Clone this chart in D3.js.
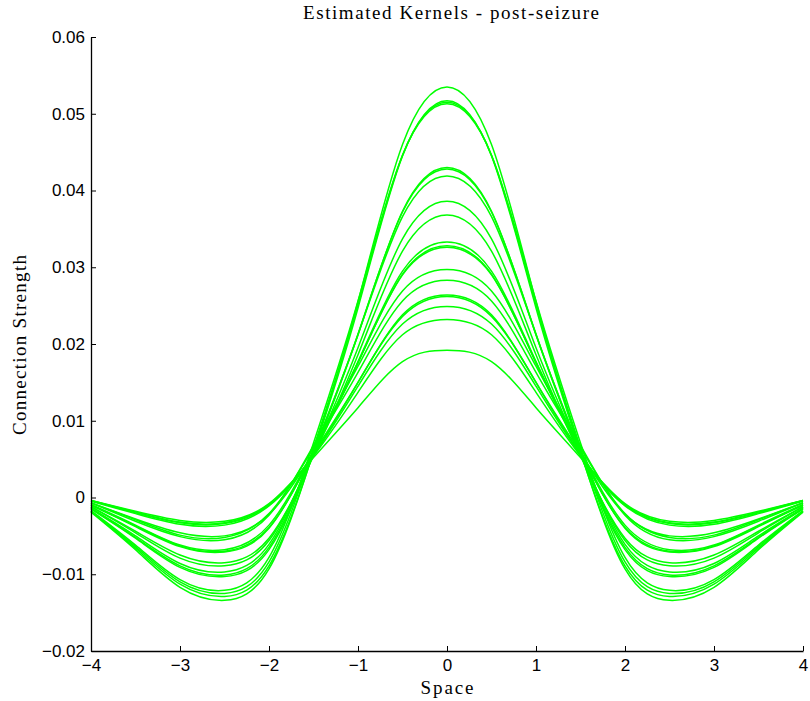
<!DOCTYPE html>
<html>
<head>
<meta charset="utf-8">
<script src="https://cdn.jsdelivr.net/npm/d3@7"></script>
<style>
  html, body { margin: 0; padding: 0; background: #fff; }
  .tick text { font-family: "Liberation Sans", Arial, sans-serif; font-size: 17px; fill: #000; }
  .tick line, .domain { stroke: #000; }
  .lbl { font-family: "Liberation Serif", "Times New Roman", serif; font-size: 19px; fill: #000; }
</style>
</head>
<body>
<svg id="chart" width="810" height="701"></svg>
<script>
// sample positions (kernels are symmetric, values given for x >= 0)
const space = [0, 0.5, 1, 1.5, 2, 2.5, 3, 3.5, 4];

// estimated kernels, one row per kernel
const kernels = [
  [0.0535, 0.0460, 0.0255, 0.0060, -0.0093, -0.0134, -0.0117, -0.0068, -0.0019],
  [0.0517, 0.0445, 0.0247, 0.0059, -0.0089, -0.0129, -0.0113, -0.0066, -0.0018],
  [0.0515, 0.0446, 0.0251, 0.0065, -0.0084, -0.0125, -0.0110, -0.0064, -0.0018],
  [0.0513, 0.0446, 0.0256, 0.0071, -0.0078, -0.0121, -0.0107, -0.0062, -0.0017],
  [0.0430, 0.0373, 0.0212, 0.0057, -0.0068, -0.0103, -0.0091, -0.0053, -0.0015],
  [0.0428, 0.0372, 0.0213, 0.0059, -0.0065, -0.0101, -0.0089, -0.0052, -0.0014],
  [0.0419, 0.0366, 0.0212, 0.0061, -0.0061, -0.0097, -0.0086, -0.0050, -0.0014],
  [0.0386, 0.0337, 0.0195, 0.0057, -0.0056, -0.0089, -0.0079, -0.0046, -0.0012],
  [0.0368, 0.0321, 0.0186, 0.0054, -0.0053, -0.0085, -0.0075, -0.0044, -0.0012],
  [0.0333, 0.0295, 0.0177, 0.0060, -0.0040, -0.0071, -0.0064, -0.0038, -0.0010],
  [0.0328, 0.0291, 0.0175, 0.0058, -0.0039, -0.0070, -0.0063, -0.0037, -0.0010],
  [0.0326, 0.0290, 0.0176, 0.0061, -0.0036, -0.0068, -0.0062, -0.0036, -0.0009],
  [0.0297, 0.0269, 0.0171, 0.0068, -0.0023, -0.0055, -0.0051, -0.0031, -0.0007],
  [0.0283, 0.0256, 0.0163, 0.0065, -0.0021, -0.0052, -0.0049, -0.0029, -0.0007],
  [0.0264, 0.0238, 0.0150, 0.0058, -0.0022, -0.0050, -0.0046, -0.0028, -0.0007],
  [0.0262, 0.0236, 0.0150, 0.0056, -0.0011, -0.0036, -0.0035, -0.0021, -0.0005],
  [0.0249, 0.0226, 0.0145, 0.0055, -0.0010, -0.0034, -0.0033, -0.0020, -0.0004],
  [0.0232, 0.0212, 0.0137, 0.0054, -0.0009, -0.0033, -0.0032, -0.0019, -0.0004],
  [0.0192, 0.0177, 0.0117, 0.0052, -0.0008, -0.0031, -0.0030, -0.0018, -0.0004]
];

const xTicks = [-4, -3, -2, -1, 0, 1, 2, 3, 4];
const yTicks = [-0.02, -0.01, 0, 0.01, 0.02, 0.03, 0.04, 0.05, 0.06];
const title = 'Estimated Kernels - post-seizure';
const xLabel = 'Space';
const yLabel = 'Connection Strength';

const svg = d3.select('#chart');
const x = d3.scaleLinear().domain([-4, 4]).range([91, 803]);
const y = d3.scaleLinear().domain([-0.02, 0.06]).range([651, 37]);

const minus = s => s.replace('-', '\u2212');

// kernels
const line = d3.line().x(d => x(d[0])).y(d => y(d[1])).curve(d3.curveNatural);
kernels.forEach(k => {
  // mirror the half profile to the negative side
  const pts = [];
  for (let i = space.length - 1; i > 0; i--) pts.push([-space[i], k[i]]);
  space.forEach((s, i) => pts.push([s, k[i]]));
  svg.append('path')
    .datum(pts)
    .attr('d', line)
    .attr('fill', 'none')
    .attr('stroke', '#00ff00')
    .attr('stroke-width', 1.5);
});

// axes (MATLAB style, inward ticks, no box)
svg.append('g')
  .attr('transform', 'translate(0,651)')
  .call(d3.axisBottom(x).tickValues(xTicks).tickSizeInner(-5).tickSizeOuter(0).tickPadding(8)
    .tickFormat(d => minus(String(d))));

svg.append('g')
  .attr('transform', 'translate(91,0)')
  .call(d3.axisLeft(y).tickValues(yTicks).tickSizeInner(-5).tickSizeOuter(0).tickPadding(6)
    .tickFormat(d => d === 0 ? '0' : minus(d3.format('.2f')(d))));

svg.selectAll('.domain').attr('stroke-width', 1.3);

svg.append('text').attr('class', 'lbl')
  .attr('x', 451).attr('y', 19).attr('text-anchor', 'middle')
  .attr('textLength', 296).attr('lengthAdjust', 'spacing')
  .text(title);

svg.append('text').attr('class', 'lbl')
  .attr('x', 447).attr('y', 694).attr('text-anchor', 'middle')
  .attr('textLength', 53).attr('lengthAdjust', 'spacing')
  .text(xLabel);

svg.append('text').attr('class', 'lbl')
  .attr('transform', 'translate(26,345) rotate(-90)')
  .attr('text-anchor', 'middle')
  .attr('textLength', 180).attr('lengthAdjust', 'spacing')
  .text(yLabel);
</script>
</body>
</html>
